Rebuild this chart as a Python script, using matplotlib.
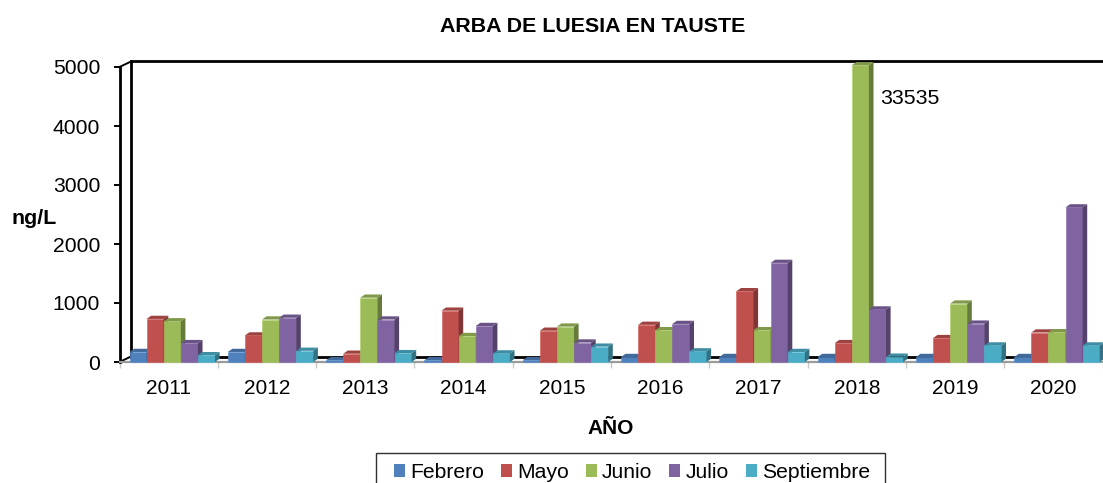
#!/usr/bin/env python3
"""Recreates the ARBA DE LUESIA EN TAUSTE pseudo-3D column chart."""

import numpy as np
import matplotlib
matplotlib.use("Agg")
import matplotlib.pyplot as plt
from matplotlib.patches import Patch, Polygon, Rectangle
from matplotlib.colors import to_rgb

plt.rcParams["font.family"] = ["Liberation Sans", "DejaVu Sans"]

years = ["2011", "2012", "2013", "2014", "2015", "2016", "2017", "2018", "2019", "2020"]
febrero = [170, 170, 30, 30, 30, 85, 85, 85, 85, 85]
mayo = [730, 450, 140, 870, 530, 630, 1200, 320, 405, 500]
junio = [690, 720, 1090, 440, 600, 540, 540, 33535, 990, 505]
julio = [320, 750, 720, 610, 330, 645, 1680, 890, 650, 2620]
septiembre = [115, 190, 150, 145, 260, 180, 170, 90, 280, 280]

series_names = ["Febrero", "Mayo", "Junio", "Julio", "Septiembre"]
series_values = [febrero, mayo, junio, julio, septiembre]
series_colors = ["#4F81BD", "#C0504D", "#9BBB59", "#8064A2", "#4BACC6"]

W, H = 1103, 483
X0, X1 = 119.5, 1102.5   # pixel extent of the category axis
Y0, Y5000 = 362, 67      # pixel positions of 0 and 5000
Y_MAX = 5000
CLIP_AT = 5030           # the off-scale column stops just above the axis

px_x = (X1 - X0) / len(years)
px_y = (Y0 - Y5000) / Y_MAX


def shade(color, k):
    return tuple(min(c * k, 1) for c in to_rgb(color))


fig = plt.figure(figsize=(W / 100, H / 100), dpi=100)
ax = fig.add_axes([X0 / W, 1 - Y0 / H, (X1 - X0) / W, (Y0 - Y5000) / H])
ax.set_xlim(0, len(years))
ax.set_ylim(0, Y_MAX)
for s in ax.spines.values():
    s.set_visible(False)

# depth of the columns and of the walls, in data units
bar_w = 17.1 / px_x
bar_start = 10.0 / px_x
dx, dy = 4.6 / px_x, 3.2 / px_y
wall_dx, wall_dy = 11.5 / px_x, 5.5 / px_y

# walls and floor
wall_lw = 2.0
ax.plot([wall_dx, len(years) + 1], [Y_MAX + wall_dy] * 2, color="black", lw=wall_lw, clip_on=False, zorder=1)
ax.plot([wall_dx, wall_dx], [wall_dy, Y_MAX + wall_dy], color="black", lw=wall_lw, clip_on=False, zorder=1)
ax.plot([wall_dx, len(years) + 1], [wall_dy, wall_dy], color="black", lw=wall_lw, clip_on=False, zorder=1)
ax.plot([0, 0], [0, Y_MAX], color="black", lw=wall_lw, clip_on=False, zorder=2)
ax.plot([0, wall_dx], [Y_MAX, Y_MAX + wall_dy], color="black", lw=1.4, clip_on=False, zorder=1)
ax.plot([0, wall_dx], [0, wall_dy], color="black", lw=1.4, clip_on=False, zorder=1)
ax.plot([0, len(years) + 1], [0, 0], color="#9a9a9a", lw=1.6, clip_on=False, zorder=2)

# columns: front, then side and top faces
x_base = np.arange(len(years))
for i, (vals, color) in enumerate(zip(series_values, series_colors)):
    z = 3 + i * 3
    heights = np.minimum(vals, CLIP_AT)
    lefts = x_base + bar_start + i * bar_w
    ax.bar(lefts, heights, width=bar_w, align="edge", color=color,
           edgecolor=shade(color, 1.12), linewidth=0.4, clip_on=False, zorder=z)
    for left, h in zip(lefts, heights):
        right = left + bar_w
        ax.add_patch(Polygon([(right, 0), (right + dx, dy), (right + dx, h + dy), (right, h)],
                             closed=True, fc=shade(color, 0.66), ec="none", clip_on=False, zorder=z + 1))
        ax.add_patch(Polygon([(left, h), (left + dx, h + dy), (right + dx, h + dy), (right, h)],
                             closed=True, fc=shade(color, 0.82), ec="none", clip_on=False, zorder=z + 1))

# ticks
ax.set_yticks(np.arange(0, Y_MAX + 1, 1000))
ax.tick_params(axis="y", length=4.5, width=1.4, color="black", labelsize=15.2, pad=9.5)
ax.set_xticks(np.arange(len(years) + 1))
ax.set_xticklabels([])
ax.tick_params(axis="x", length=4.5, width=1.0, color="#c8c8c8")
for x, label in zip(x_base + 0.5, years):
    ax.annotate(label, (x, 0), xytext=(0, -27), xycoords="data", textcoords="offset pixels",
                ha="center", va="center", fontsize=15)

# titles and labels
fig.text(593 / W, 1 - 27 / H, "ARBA DE LUESIA EN TAUSTE", ha="center", va="center",
         fontsize=15.4, fontweight="bold")
fig.text(34 / W, 1 - 218 / H, "ng/L", ha="center", va="center", fontsize=15.4, fontweight="bold")
fig.text(611 / W, 1 - 428 / H, "AÑO", ha="center", va="center", fontsize=15, fontweight="bold")
ax.annotate("33535", (7.5, Y_MAX), xytext=(880, 1 - 98 / H), xycoords="data",
            textcoords=("figure pixels", "figure fraction"), ha="left", va="center", fontsize=15.4)

# legend box runs off the bottom of the image, as in the source
fig.add_artist(Rectangle((376 / W, 1 - 495 / H), (885 - 376) / W, 42 / H, transform=fig.transFigure,
                         fc="white", ec="#303030", lw=1.0))
handles = [Patch(fc=c, ec="none", label=n) for n, c in zip(series_names, series_colors)]
leg = fig.legend(handles=handles, loc="center left", bbox_to_anchor=(394 / W, 1 - 472.5 / H),
                 ncol=5, fontsize=15.2, frameon=False, borderaxespad=0, borderpad=0,
                 handlelength=0.52, handleheight=0.52, handletextpad=0.25, columnspacing=0.8)

fig.savefig("out.png", dpi=100)
